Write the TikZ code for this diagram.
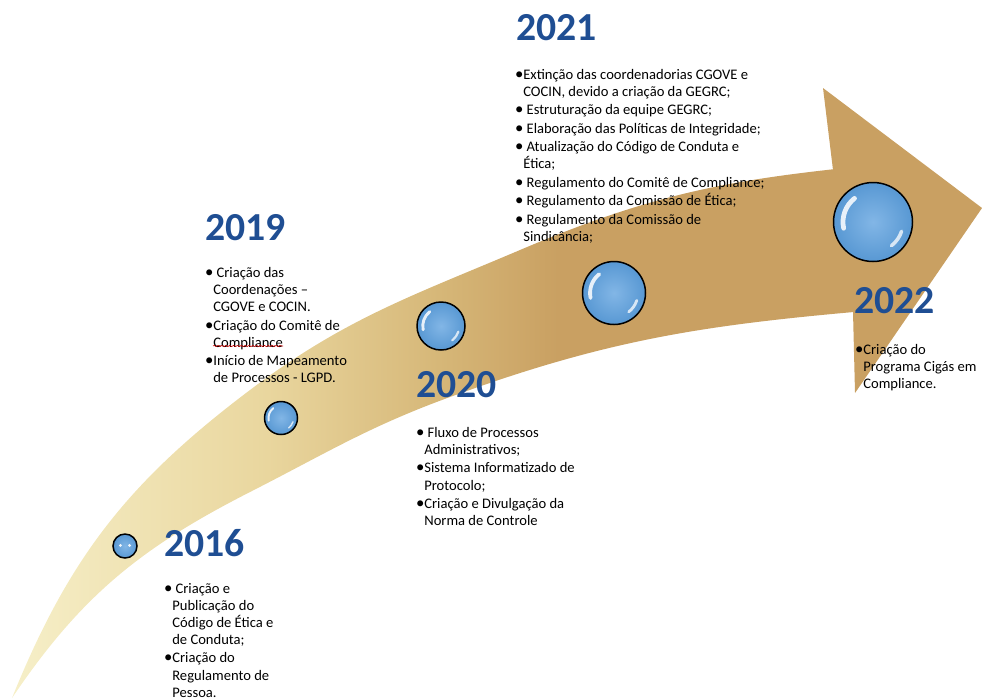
\documentclass[tikz,border=0pt]{standalone}
\usepackage{fontspec}
\setmainfont{Carlito}
\usetikzlibrary{positioning,decorations.pathmorphing}
\definecolor{yearblue}{RGB}{31,78,147}
\definecolor{bubbleblue}{RGB}{88,152,211}
\definecolor{bubblelight}{RGB}{130,182,230}
\definecolor{pale}{RGB}{246,239,200}
\definecolor{sand}{RGB}{233,214,158}
\definecolor{ochre}{RGB}{214,183,120}
\definecolor{headtan}{RGB}{201,160,98}
\pgfdeclarehorizontalshading{arrowshade}{100bp}{color(0bp)=(pale); color(25bp)=(pale); color(40bp)=(sand); color(50bp)=(ochre); color(57bp)=(headtan); color(100bp)=(headtan)}

\newlength{\bulw}\setlength{\bulw}{3.4pt}
\def\bul{\makebox[\bulw][l]{\hspace*{-1.3pt}\scalebox{1.15}{\textbullet}}}
\def\cnt{\hspace*{\bulw}}
\def\yearnode{\node[year,anchor=base west]}
\def\listnode{\node[items,anchor=north west]}
\def\bubblenode{\node[bubble]}

\tikzset{
  year/.style={font=\fontsize{22.6}{27}\selectfont\bfseries, text=yearblue, inner sep=0pt},
  items/.style={font=\fontsize{8.3}{9.7}\selectfont, align=left, inner sep=0pt},
  bubble/.style={circle, draw=black, line width=0.85pt, inner sep=0pt,
    inner color=bubblelight, outer color=bubbleblue},
  gloss/.style={minimum size=2*#1cm, path picture={
      \draw[white, opacity=.85, line width=0.12*#1cm, line cap=round]
        ([shift={(128:0.76*#1cm)}]path picture bounding box.center)
        arc[start angle=128, end angle=192, radius=0.76*#1cm];
      \draw[white, opacity=.75, line width=0.09*#1cm, line cap=round]
        ([shift={(-18:0.76*#1cm)}]path picture bounding box.center)
        arc[start angle=-18, end angle=-52, radius=0.76*#1cm];}},
  twin/.style={minimum size=2*#1cm, path picture={
      \fill[white, opacity=.9] ([shift={(-0.38*#1cm,0.05*#1cm)}]path picture bounding box.center) circle[radius=0.13*#1cm];
      \fill[white, opacity=.9] ([shift={(0.38*#1cm,0.05*#1cm)}]path picture bounding box.center) circle[radius=0.13*#1cm];}}
}

\begin{document}
\begin{tikzpicture}[x=0.02cm, y=-0.02cm]
\useasboundingbox (0,0) rectangle (982,698);

% ---------- the arrow head, plain tan
\coordinate (notchtop) at (833,170); % where the shaft meets the head, top
\coordinate (headtop) at (823,88);
\coordinate (tip) at (982,208);
\coordinate (headbot) at (855,393);
\coordinate (notchbot) at (853,312); % where the shaft meets the head, bottom
\fill[headtan] (notchtop) -- (headtop) -- (tip) -- (headbot) -- (notchbot) -- cycle;

% ---------- the curved shaft, pale at the tail
\coordinate (tail) at (12,698);
\coordinate (upA) at (250,390);
\coordinate (upB) at (520,250);
\coordinate (upC) at (845,168);
\coordinate (lowC) at (865,311);
\coordinate (lowA) at (450,397);
\coordinate (lowB) at (250,492);
\shade[shading=arrowshade]
  (tail) to[out=68,in=217] (upA) to[out=37,in=203] (upB) to[out=23,in=186] (upC)
  -- (lowC) to[out=185,in=20] (lowA) to[out=200,in=27] (lowB) to[out=207,in=56] (tail) -- cycle;

% ---------- bubbles along the arrow
\bubblenode[twin=0.24] (b16) at (125,546) {};
\bubblenode[gloss=0.33] (b19) at (281,418) {};
\bubblenode[gloss=0.48] (b20) at (441,326) {};
\bubblenode[gloss=0.63] (b21) at (614,293) {};
\bubblenode[gloss=0.79] (b22) at (873,222) {};

% ---------- years
\yearnode (y16) at (164,556) {2016};
\yearnode (y19) at (205,240) {2019};
\yearnode (y20) at (416,397) {2020};
\yearnode (y21) at (516,40) {2021};
\yearnode (y22) at (854,313) {2022};

% ---------- what happened each year
\listnode (t16) at (166,583) {\bul\ Criação e\\
  \cnt Publicação do\\
  \cnt Código de Ética e\\
  \cnt de Conduta;\\[0.8pt]
  \bul Criação do\\
  \cnt Regulamento de\\
  \cnt Pessoa.};
\listnode (t19) at (207,267) {\bul\ Criação das\\
  \cnt Coordenações –\\
  \cnt CGOVE e COCIN.\\[0.8pt]
  \bul Criação do Comitê de\\
  \cnt Compliance\\[0.8pt]
  \bul Início de Mapeamento\\
  \cnt de Processos - LGPD.};
\listnode (t20) at (418,427) {\bul\ Fluxo de Processos\\
  \cnt Administrativos;\\[0.8pt]
  \bul Sistema Informatizado de\\
  \cnt Protocolo;\\[0.8pt]
  \bul Criação e Divulgação da\\
  \cnt Norma de Controle};
\listnode (t21) at (517,69) {\bul Extinção das coordenadorias CGOVE e\\
  \cnt COCIN, devido a criação da GEGRC;\\[0.8pt]
  \bul\ Estruturação da equipe GEGRC;\\[0.8pt]
  \bul\ Elaboração das Políticas de Integridade;\\[0.8pt]
  \bul\ Atualização do Código de Conduta e\\
  \cnt Ética;\\[0.8pt]
  \bul\ Regulamento do Comitê de Compliance;\\[0.8pt]
  \bul\ Regulamento da Comissão de Ética;\\[0.8pt]
  \bul\ Regulamento da Comissão de\\
  \cnt Sindicância;};
\listnode (t22) at (857,344) {\bul Criação do\\
  \cnt Programa Cigás em\\
  \cnt Compliance.};

% spell-check squiggle under Compliance
\draw[red!80!black, line width=0.35pt, decorate, decoration={snake, amplitude=0.35pt, segment length=2.2pt}]
  (213,346) -- (283,346);
\end{tikzpicture}
\end{document}
